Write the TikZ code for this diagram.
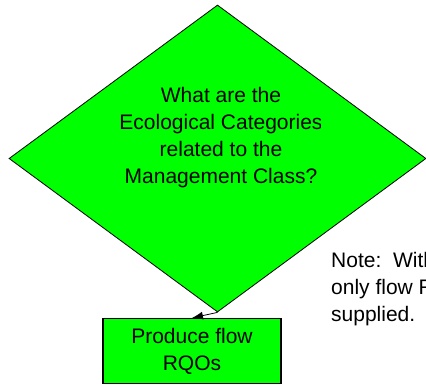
\documentclass[tikz,border=0pt]{standalone}
\usepackage{fontspec}
\setmainfont{Liberation Sans}
\usetikzlibrary{shapes.geometric,arrows.meta}
\definecolor{brightgreen}{HTML}{00FF00}
\tikzset{
  decision/.style={shape=diamond, draw=black, fill=brightgreen, line width=0.8pt, inner sep=0pt, minimum width=417pt, minimum height=307pt},
  process/.style={shape=rectangle, draw=black, fill=brightgreen, line width=1.1pt, inner sep=0pt, minimum width=178pt, minimum height=65pt, align=center},
  bigtext/.style={font=\fontsize{21}{27}\selectfont, inner sep=0pt},
  link/.style={draw=black, line width=0.8pt, -{Latex[length=11pt,width=8pt]}}
}
\begin{document}
\begin{tikzpicture}[x=1pt,y=-1pt]
\useasboundingbox (0,0) rectangle (426,385);
\node[decision] (d) at (217.5,158.5) {};
\begin{scope}
  \clip (0,0) rectangle (320.5,385);
  \node[bigtext, align=center] (dt) at (221,138) {What are the\\Ecological Categories\\related to the\\Management Class?};
\end{scope}
\node[process, bigtext] (r) at (192,351) {Produce flow\\RQOs};
\node[bigtext, align=left, anchor=north west] (note) at (331,252) {Note:\ \ With\\only flow R\\supplied.};
\draw[link] (d.south) -- (r.north);
\end{tikzpicture}
\end{document}
